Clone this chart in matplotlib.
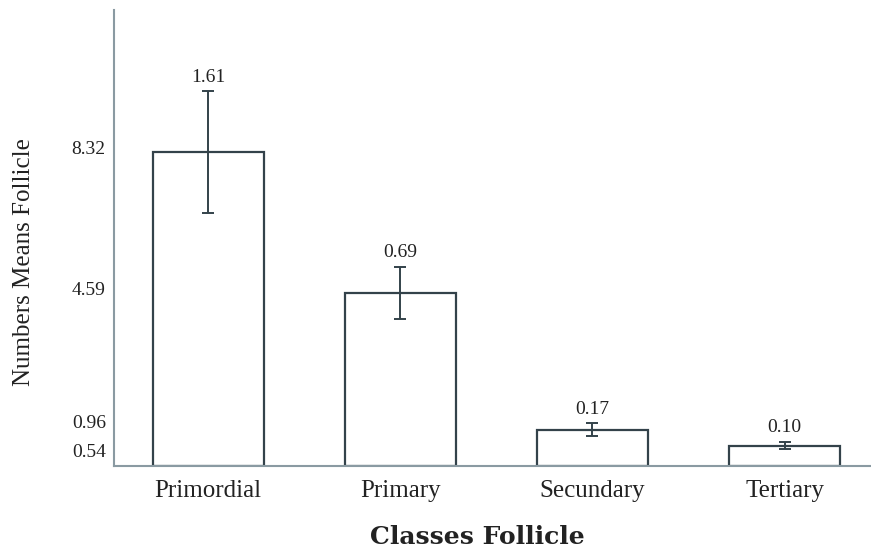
import numpy as np
import matplotlib.pyplot as plt
from matplotlib.transforms import ScaledTranslation

classes = ['Primordial', 'Primary', 'Secundary', 'Tertiary']
means = [8.32, 4.59, 0.96, 0.54]
errors = [1.61, 0.69, 0.17, 0.10]
err_labels = ['1.61', '0.69', '0.17', '0.10']

plt.rcParams['font.family'] = ['Liberation Serif', 'DejaVu Serif']

fig = plt.figure(figsize=(8.71, 5.49), dpi=100)
ax = fig.add_axes([0.131, 0.151, 0.869, 0.8306])

x = np.arange(len(classes))
edge = '#33424a'
ax.bar(x, means, width=0.58, color='white', edgecolor=edge, linewidth=1.6, zorder=2)
ax.errorbar(x, means, yerr=errors, fmt='none', ecolor=edge, elinewidth=1.4,
            capsize=4.5, capthick=1.4, zorder=3)

for xi, m, e, lab in zip(x, means, errors, err_labels):
    ax.annotate(lab, (xi, m + e), xytext=(0, 4), textcoords='offset points',
                ha='center', va='bottom', fontsize=14, color='#222222')

ax.set_xlim(-0.49, 3.45)
ax.set_ylim(0, 12.08)
ax.set_yticks(means)
ax.set_yticklabels(['8.32', '4.59', '0.96', '0.54'])
ax.set_xticks(x)
ax.set_xticklabels(classes)
ax.tick_params(axis='y', length=0, labelsize=14, pad=6, labelcolor='#222222')
ax.tick_params(axis='x', length=0, labelsize=18, pad=10, labelcolor='#222222')

# nudge crowded y labels apart like the original
shifts = [5, 4, 8, -5]
for lab, dy in zip(ax.get_yticklabels(), shifts):
    lab.set_transform(lab.get_transform() + ScaledTranslation(0, dy / 100, fig.dpi_scale_trans))

for s in ['top', 'right']:
    ax.spines[s].set_visible(False)
for s in ['left', 'bottom']:
    ax.spines[s].set_color('#8a9aa2')
    ax.spines[s].set_linewidth(1.5)

ax.set_ylabel('Numbers Means Follicle', fontsize=18, color='#222222')
ax.yaxis.set_label_coords(-0.104, 0.447)
ax.set_xlabel('Classes Follicle', fontsize=18, fontweight='bold', color='#222222',
              family=['DejaVu Serif'])
ax.xaxis.set_label_coords(0.4795, -0.13)

fig.savefig('out.png', dpi=100)
